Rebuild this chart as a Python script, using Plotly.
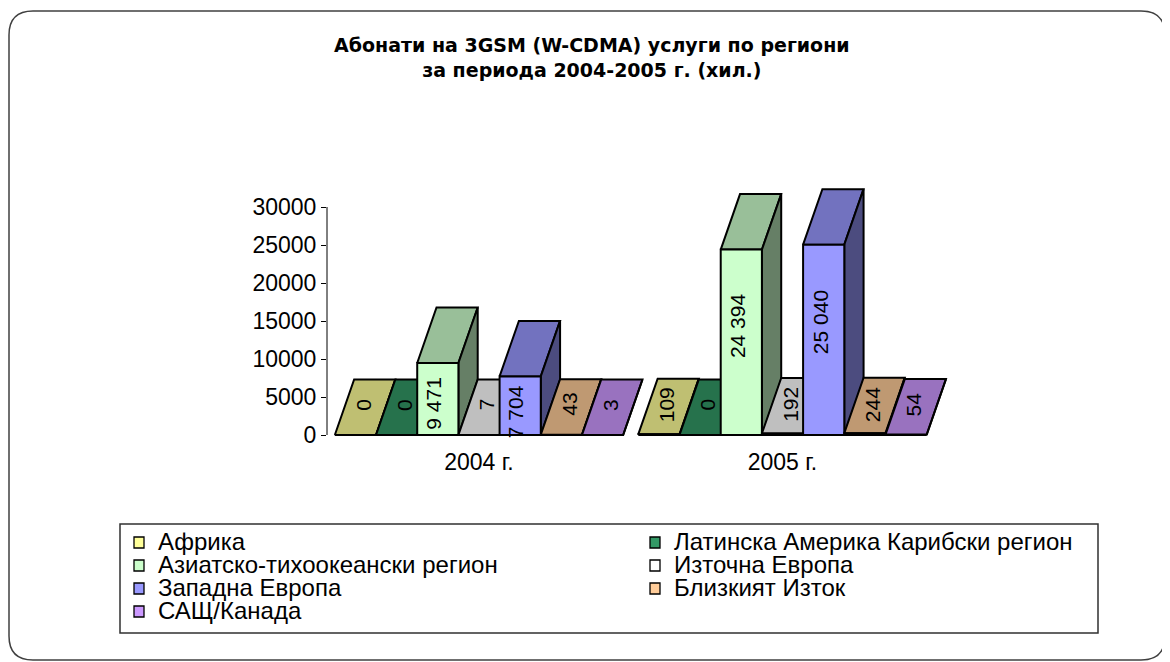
import plotly.graph_objects as go

# ---------------- data ----------------
categories = ["2004 г.", "2005 г."]
regions = [
    "Африка",
    "Латинска Америка Карибски регион",
    "Азиатско-тихоокеански регион",
    "Източна Европа",
    "Западна Европа",
    "Близкият Изток",
    "САЩ/Канада",
]
values_2004 = [0, 0, 9471, 7, 7704, 43, 3]
values_2005 = [109, 0, 24394, 192, 25040, 244, 54]
front_colors = ["#FFFF99", "#339966", "#CCFFCC", "#FFFFFF", "#9999FF", "#FFCC99", "#CC99FF"]
y_ticks = [0, 5000, 10000, 15000, 20000, 25000, 30000]
title_lines = ["Абонати на 3GSM (W-CDMA) услуги по региони", "за периода 2004-2005 г. (хил.)"]

series_by_cat = [values_2004, values_2005]

# ---------------- geometry (screen pixels) ----------------
WIN_W, WIN_H = 1170, 662
BODY = 8                    # default page margin around the plot div
L, RGT = 327, 964           # plot area left / right (screen px)
T, BOT = 176, 439           # plot area top / bottom (screen px)
PX_PER_CAT = 303.5
CAT0_PX = 479
PX_PER_VAL = 228 / 30000
ZERO_PX = 435

xmin = (L - CAT0_PX) / PX_PER_CAT
xmax = (RGT - CAT0_PX) / PX_PER_CAT
ymax = (ZERO_PX - T) / PX_PER_VAL
ymin = (ZERO_PX - BOT) / PX_PER_VAL

GROUP_W = 0.95
BAR_W = GROUP_W / len(regions)
DX = 19.3 / PX_PER_CAT
DY = 55.5 / PX_PER_VAL
PW, PH = RGT - L, BOT - T


def px_x(px):
    return (px - L) / PW


def px_y(py):
    return (BOT - py) / PH


def shade(hexcol, f):
    h = hexcol.lstrip("#")
    r, g, b = (int(h[i:i + 2], 16) for i in (0, 2, 4))
    return "rgb({},{},{})".format(int(r * f), int(g * f), int(b * f))


EDGE = dict(color="black", width=2)
fig = go.Figure()
annotations = []


def poly(xs, ys, fill):
    fig.add_trace(go.Scatter(
        x=xs + [xs[0]], y=ys + [ys[0]], mode="lines", fill="toself",
        fillcolor=fill, line=EDGE, hoverinfo="skip", showlegend=False))


for ci, vals in enumerate(series_by_cat):
    for si, v in enumerate(vals):
        x0 = ci - GROUP_W / 2 + si * BAR_W
        x1 = x0 + BAR_W
        col = front_colors[si]
        # top face
        poly([x0, x1, x1 + DX, x0 + DX], [v, v, v + DY, v + DY], shade(col, 0.75))
        # side face
        poly([x1, x1 + DX, x1 + DX, x1], [0, DY, v + DY, v], shade(col, 0.5))
        # front face
        poly([x0, x1, x1, x0], [0, 0, v, v], col)
        # data label
        xc = (x0 + x1) / 2
        if v > 5000:
            lx, ly = xc - 0.2 * DX, 0.68 * v - 2200
        else:
            lx, ly = xc + 0.4 * DX, 4000
        annotations.append(dict(
            x=lx, y=ly, xref="x", yref="y", text="{:,}".format(v).replace(",", " "),
            textangle=-90, showarrow=False, xanchor="center", yanchor="middle",
            font=dict(family="Liberation Sans, Arial", size=21, color="black")))

# ---------------- title ----------------
annotations.append(dict(
    x=px_x(592), y=px_y(58), xref="paper", yref="paper",
    text="<br>".join(title_lines), showarrow=False, xanchor="center", yanchor="middle",
    font=dict(family="DejaVu Sans", size=19, color="black", weight="bold")))

# ---------------- legend (manual, 2 columns row-wise) ----------------
shapes = []
col_sq_px = [134, 650]
col_tx_px = [156, 672]
row0_px, row_step = 541, 23
for i, name in enumerate(regions):
    r, c = divmod(i, 2)
    cy = row0_px + r * row_step
    shapes.append(dict(type="rect", xref="paper", yref="paper",
                       x0=px_x(col_sq_px[c]), x1=px_x(col_sq_px[c] + 10),
                       y0=px_y(cy - 4), y1=px_y(cy + 7),
                       fillcolor=front_colors[i], line=dict(color="black", width=1.3)))
    annotations.append(dict(
        x=px_x(col_tx_px[c]), y=px_y(cy), xref="paper", yref="paper", text=name,
        showarrow=False, xanchor="left", yanchor="middle",
        font=dict(family="Liberation Sans, Arial", size=24, color="black")))

# legend box
shapes.append(dict(type="rect", xref="paper", yref="paper",
                   x0=px_x(120), x1=px_x(1098), y0=px_y(633), y1=px_y(524),
                   line=dict(color="#303030", width=1.5), fillcolor="rgba(0,0,0,0)"))

# y axis line (0 .. 30000)
shapes.append(dict(type="line", xref="paper", yref="y", x0=0, x1=0,
                   y0=y_ticks[0], y1=y_ticks[-1], line=dict(color="black", width=1)))

# outer rounded border
bx0, by0, bx1, by1, rr = 9, 11, 1165, 660, 24
path = (
    f"M {px_x(bx0)},{px_y(by0 + rr)} "
    f"Q {px_x(bx0)},{px_y(by0)} {px_x(bx0 + rr)},{px_y(by0)} "
    f"L {px_x(bx1 - rr)},{px_y(by0)} "
    f"Q {px_x(bx1)},{px_y(by0)} {px_x(bx1)},{px_y(by0 + rr)} "
    f"L {px_x(bx1)},{px_y(by1 - rr)} "
    f"Q {px_x(bx1)},{px_y(by1)} {px_x(bx1 - rr)},{px_y(by1)} "
    f"L {px_x(bx0 + rr)},{px_y(by1)} "
    f"Q {px_x(bx0)},{px_y(by1)} {px_x(bx0)},{px_y(by1 - rr)} Z"
)
shapes.append(dict(type="path", xref="paper", yref="paper", path=path,
                   line=dict(color="#404040", width=1.5)))

fig.update_layout(
    width=WIN_W - BODY, height=WIN_H - BODY,
    margin=dict(l=L - BODY, r=WIN_W - RGT, t=T - BODY, b=WIN_H - BOT, pad=0),
    paper_bgcolor="white", plot_bgcolor="rgba(0,0,0,0)",
    showlegend=False,
    annotations=annotations,
    shapes=shapes,
    xaxis=dict(range=[xmin, xmax], tickvals=list(range(len(categories))), ticktext=categories,
               showgrid=False, zeroline=False, showline=False, ticks="",
               ticklabelstandoff=7,
               tickfont=dict(family="Liberation Sans, Arial", size=23, color="black"),
               fixedrange=True),
    yaxis=dict(range=[ymin, ymax], tickvals=y_ticks, ticktext=[str(t) for t in y_ticks],
               showgrid=False, zeroline=False, showline=False, ticks="outside",
               ticklen=5, tickcolor="black", tickwidth=1,
               tickfont=dict(family="Liberation Sans, Arial", size=23, color="black"),
               fixedrange=True),
)

fig.write_html("out.html")
